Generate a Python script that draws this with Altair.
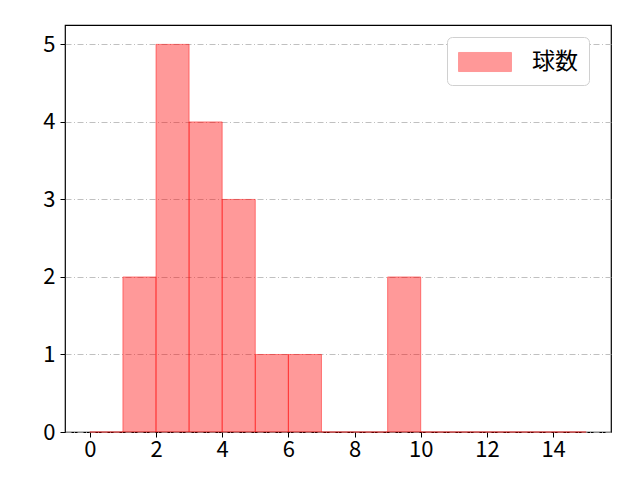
import pandas as pd
import altair as alt

# histogram bins (width 1) and counts
bin_start = list(range(0, 15))
counts = [0, 2, 5, 4, 3, 1, 1, 0, 0, 2, 0, 0, 0, 0, 0]
series = "球数"
x_ticks = [0, 2, 4, 6, 8, 10, 12, 14]
y_ticks = [0, 1, 2, 3, 4, 5]

df = pd.DataFrame({
    "start": bin_start,
    "end": [b + 1 for b in bin_start],
    "count": counts,
    "series": series,
})

FONT = "Noto Sans CJK JP"

bars = alt.Chart(df).mark_rect(
    fillOpacity=0.4, stroke="red", strokeOpacity=0.45, strokeWidth=1
).encode(
    x=alt.X("start:Q", scale=alt.Scale(domain=[-0.75, 15.75], nice=False, zero=False),
            axis=alt.Axis(values=x_ticks, title=None, grid=False,
                          labelFont=FONT, labelFontSize=22, labelColor="black",
                          labelPadding=2)),
    x2="end:Q",
    y=alt.Y("count:Q", scale=alt.Scale(domain=[0, 5.25], nice=False),
            axis=alt.Axis(values=y_ticks, title=None, grid=True,
                          gridColor="#b0b0b0", gridDash=[6, 2.5, 1, 2.5], gridWidth=0.8,
                          labelFont=FONT, labelFontSize=22, labelColor="black",
                          labelPadding=5)),
    y2=alt.datum(0),
    fill=alt.Color("series:N", scale=alt.Scale(range=["red"]),
                   legend=alt.Legend(title=None, orient="none", legendX=382, legendY=12,
                                     symbolType="M-2,-0.72L2,-0.72L2,0.72L-2,0.72Z",
                                     symbolSize=700, symbolStrokeColor="red",
                                     symbolOpacity=0.4, symbolStrokeWidth=1,
                                     symbolOffset=13,
                                     labelFontSize=23, labelFont=FONT, labelOffset=33,
                                     labelColor="black",
                                     fillColor="white", strokeColor="#d0d0d0",
                                     cornerRadius=5, padding=11)),
)

chart = bars.properties(
    width=546, height=407,
    autosize=alt.AutoSizeParams(type="none"),
    padding={"left": 57, "top": 17, "right": 21, "bottom": 40},
).configure_view(
    stroke="black", strokeWidth=1.2
).configure_axis(
    domain=False, tickColor="black", tickSize=5, tickWidth=1,
)

chart.save("out.html", embed_options={"renderer": "svg", "actions": False})
